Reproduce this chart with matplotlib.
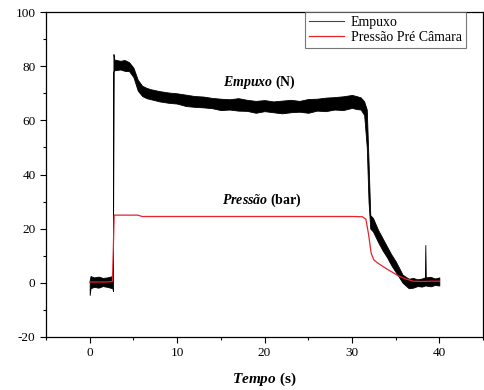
import numpy as np
import matplotlib.pyplot as plt
from matplotlib.ticker import MultipleLocator

plt.rcParams['font.family'] = ['Liberation Serif', 'DejaVu Serif']
plt.rcParams['mathtext.fontset'] = 'custom'
plt.rcParams['mathtext.it'] = 'Liberation Serif:italic:bold'
plt.rcParams['mathtext.bf'] = 'Liberation Serif:bold'
plt.rcParams['mathtext.rm'] = 'Liberation Serif'
plt.rcParams['axes.unicode_minus'] = False

# thrust (Empuxo): noise band -> time, lower and upper edge
t_emp = [0.0, 0.1, 0.5, 1.0, 1.5, 2.0, 2.6, 2.66, 2.72, 2.8, 3.5, 4.0, 4.5,
         5.0, 5.5, 6.0, 6.5, 7.0, 8.0, 9.0, 10.0, 11.0, 12.0, 13.0, 14.0,
         15.0, 16.0, 17.0, 18.0, 19.0, 20.0, 21.0, 22.0, 23.0, 24.0, 25.0,
         26.0, 27.0, 28.0, 29.0, 30.0, 30.5, 31.0, 31.4, 31.7, 31.9, 32.1,
         32.4, 33.0, 33.5, 34.0, 34.5, 35.0, 35.8, 36.5, 37.0, 37.5, 38.0,
         38.35, 38.4, 38.45, 39.0, 39.5, 40.0]
emp_lo = [-4.5, -2, -1.5, -1.8, -1.2, -1.5, -2, -3, 78, 78.5, 78.8, 78.3,
          78.2, 76, 71, 69, 68.2, 67.8, 67, 66.5, 66.2, 65.3, 65, 64.8, 64.5,
          63.8, 64, 63.6, 63.5, 62.8, 63.4, 63, 62.6, 63, 63.2, 62.8,
          63.6, 63.4, 64, 63.8, 64.6, 64.2, 64, 62, 50, 30, 20,
          19, 15, 12, 9.5, 6.5, 4, 0, -2, -1.8, -1.2, -1.4,
          -1, -1, -1, -1.3, -0.8, -1]
emp_hi = [1, 2.5, 2, 2.3, 1.8, 2, 2.5, 2.5, 84.5, 82.5, 82, 82.3,
          81.5, 79.5, 75, 72.8, 72, 71.5, 70.8, 70.3, 70, 69.5, 69, 68.8,
          68.3, 68, 67.8, 68.2, 67.6, 67.2, 67.5, 67, 67.3, 67.6, 67.2,
          67.9, 68, 68.4, 68.6, 68.9, 69.4, 69, 68.5, 67, 64, 45, 25,
          24, 19.5, 16.5, 13.5, 10.5, 8, 3, 1.5, 1.8, 1.3, 1.6,
          2, 14, 2, 2.2, 1.6, 2]

# chamber pressure (Pressão Pré Câmara)
t_pre = [0.0, 1.0, 2.0, 2.6, 2.7, 2.8, 4.0, 5.5, 6.0, 10.0, 20.0, 30.0,
         31.2, 31.6, 31.9, 32.2, 32.5, 33.0, 33.8, 35.3, 36.1, 37.0, 38.0,
         39.0, 40.0]
pre = [0.3, 0.3, 0.3, 0.5, 12, 25, 25, 25, 24.5, 24.5, 24.5, 24.5,
       24.4, 23.5, 18, 11, 8.5, 7.2, 5.5, 2.6, 1.5, 0.6, 0.5, 0.6, 0.6]

fig = plt.figure(figsize=(4.84, 3.90), dpi=100)
ax = fig.add_axes([0.095, 0.136, 0.903, 0.833])

ax.fill_between(t_emp, emp_lo, emp_hi, color='black', linewidth=0.6)
ax.plot([], [], color='#444444', lw=0.8, label='Empuxo')
ax.plot(t_pre, pre, color='#e8232a', lw=0.9, label='Pressão Pré Câmara')

ax.set_xlim(-5, 45)
ax.set_ylim(-20, 100)
ax.xaxis.set_major_locator(MultipleLocator(10))
ax.xaxis.set_minor_locator(MultipleLocator(5))
ax.yaxis.set_major_locator(MultipleLocator(20))
ax.yaxis.set_minor_locator(MultipleLocator(10))
ax.tick_params(which='both', direction='out', top=False, right=False,
               labelsize=9.5, width=0.8)
ax.tick_params(which='major', length=4)
ax.tick_params(which='minor', length=2.5)
for s in ax.spines.values():
    s.set_linewidth(0.9)

ax.text(19.4, 74.2, r'$\mathit{Empuxo}\ \mathbf{(N)}$', fontsize=10,
        ha='center', va='center')
ax.text(19.7, 30.3, r'$\mathit{Pressão}\ \mathbf{(bar)}$', fontsize=10,
        ha='center', va='center')
ax.set_xlabel(r'$\mathit{Tempo}\ \mathbf{(s)}$', fontsize=11, labelpad=8)

leg = ax.legend(loc='upper right', bbox_to_anchor=(0.961, 1.0),
                borderaxespad=0, fancybox=False, fontsize=10,
                handlelength=2.5, handletextpad=0.5, borderpad=0.3,
                labelspacing=0.1)
leg.get_frame().set_edgecolor('#555555')
leg.get_frame().set_linewidth(0.8)

fig.savefig('out.png', dpi=100)
